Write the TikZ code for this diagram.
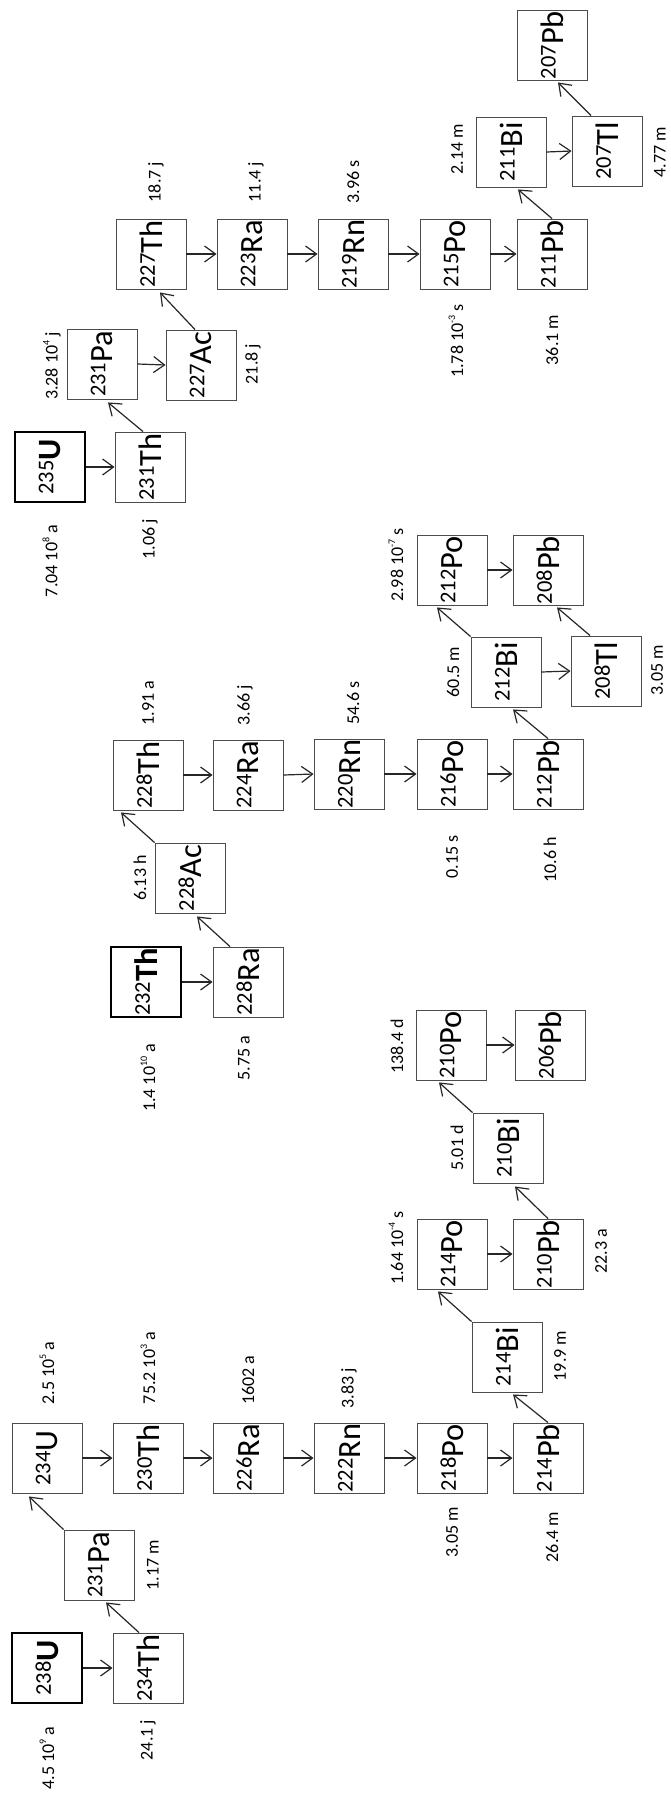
\documentclass[tikz,border=0pt]{standalone}
\usepackage{fontspec}
\setmainfont{Carlito}
\usepackage{graphicx}
\usetikzlibrary{arrows.meta,calc}
\newcommand\iso[2]{\rotatebox{90}{\raisebox{7.5pt}{\fontsize{22.5}{22.5}\selectfont #1}{\fontsize{32.5}{32.5}\selectfont #2}}}
\newcommand\isob[2]{\rotatebox{90}{\raisebox{7.5pt}{\fontsize{22.5}{22.5}\selectfont #1}{\fontsize{32.5}{32.5}\selectfont\bfseries #2}}}
\newcommand\pw[1]{\raisebox{0.45em}{\fontsize{10}{10}\selectfont #1}}
\begin{document}
\begin{tikzpicture}[x=1pt,y=-1pt,
  nuc/.style={draw=black!70, line width=0.9pt, minimum width=70pt, minimum height=70pt, inner sep=0pt},
  parent/.style={nuc, draw=black, line width=1.8pt},
  hl/.style={rotate=90, inner sep=0pt, font=\fontsize{18}{18}\selectfont},
  arr/.style={draw=black!85, line width=1.2pt, -{Straight Barb[length=11pt,width=16pt]}}]
\useasboundingbox (0,0) rectangle (671,1796);
% ---------- chain 238U ----------
\node[parent] (U238) at (47,1668) {\isob{238}{U}};
\node[nuc] (Th234) at (148,1668) {\iso{234}{Th}};
\node[nuc] (Pa234) at (99,1565) {\iso{231}{Pa}};
\node[nuc] (U234) at (47,1458) {\iso{234}{U}};
\node[nuc] (Th230) at (148,1458) {\iso{230}{Th}};
\node[nuc] (Ra226) at (248,1458) {\iso{226}{Ra}};
\node[nuc] (Rn222) at (349,1458) {\iso{222}{Rn}};
\node[nuc] (Po218) at (452,1458) {\iso{218}{Po}};
\node[nuc] (Pb214) at (548,1458) {\iso{214}{Pb}};
\node[nuc] (Bi214) at (507,1357) {\iso{214}{Bi}};
\node[nuc] (Po214) at (452,1254) {\iso{214}{Po}};
\node[nuc] (Pb210) at (548,1254) {\iso{210}{Pb}};
\node[nuc] (Bi210) at (508,1148) {\iso{210}{Bi}};
\node[nuc] (Po210) at (451,1045) {\iso{210}{Po}};
\node[nuc] (Pb206) at (550,1045) {\iso{206}{Pb}};
% ---------- chain 232Th ----------
\node[parent] (Th232) at (146,982) {\isob{232}{Th}};
\node[nuc] (Ra228) at (248,982) {\iso{228}{Ra}};
\node[nuc] (Ac228) at (190,878) {\iso{228}{Ac}};
\node[nuc] (Th228) at (148,775) {\iso{228}{Th}};
\node[nuc] (Ra224) at (248,775) {\iso{224}{Ra}};
\node[nuc] (Rn220) at (349,774) {\iso{220}{Rn}};
\node[nuc] (Po216) at (452,774) {\iso{216}{Po}};
\node[nuc] (Pb212) at (548,774) {\iso{212}{Pb}};
\node[nuc] (Bi212) at (506,672) {\iso{212}{Bi}};
\node[nuc] (Tl208) at (606,671) {\iso{208}{Tl}};
\node[nuc] (Po212) at (452,570) {\iso{212}{Po}};
\node[nuc] (Pb208) at (548,570) {\iso{208}{Pb}};
% ---------- chain 235U ----------
\node[parent] (U235) at (50,467) {\isob{235}{U}};
\node[nuc] (Th231) at (150,467) {\iso{231}{Th}};
\node[nuc] (Pa231) at (102,364) {\iso{231}{Pa}};
\node[nuc] (Ac227) at (201,365) {\iso{227}{Ac}};
\node[nuc] (Th227) at (151,254) {\iso{227}{Th}};
\node[nuc] (Ra223) at (252,254) {\iso{223}{Ra}};
\node[nuc] (Rn219) at (353,254) {\iso{219}{Rn}};
\node[nuc] (Po215) at (455,254) {\iso{215}{Po}};
\node[nuc] (Pb211) at (552,254) {\iso{211}{Pb}};
\node[nuc] (Bi211) at (511,152) {\iso{211}{Bi}};
\node[nuc] (Tl207) at (607,151) {\iso{207}{Tl}};
\node[nuc] (Pb207) at (552,45) {\iso{207}{Pb}};
% ---------- half-lives ----------
\node[hl] (h1) at (47,1758) {4.5 10\pw{9} a};
\node[hl] (h2) at (148,1740) {24.1 j};
\node[hl] (h3) at (153,1565) {1.17 m};
\node[hl] (h4) at (47,1373) {2.5 10\pw{5} a};
\node[hl] (h5) at (148,1368) {75.2 10\pw{3} a};
\node[hl] (h6) at (248,1380) {1602 a};
\node[hl] (h7) at (349,1388) {3.83 j};
\node[hl] (h8) at (452,1532) {3.05 m};
\node[hl] (h9) at (552,1537) {26.4 m};
\node[hl] (h10) at (560,1356) {19.9 m};
\node[hl] (h11) at (396,1248) {1.64 10\pw{-4} s};
\node[hl] (h12) at (601,1251) {22.3 a};
\node[hl] (h13) at (457,1148) {5.01 d};
\node[hl] (h14) at (397,1046) {138.4 d};
\node[hl] (h15) at (148,1078) {1.4 10\pw{10} a};
\node[hl] (h16) at (244,1058) {5.75 a};
\node[hl] (h17) at (140,878) {6.13 h};
\node[hl] (h18) at (148,703) {1.91 a};
\node[hl] (h19) at (245,705) {3.66 j};
\node[hl] (h20) at (353,703) {54.6 s};
\node[hl] (h21) at (452,857) {0.15 s};
\node[hl] (h22) at (550,860) {10.6 h};
\node[hl] (h23) at (453,672) {60.5 m};
\node[hl] (h24) at (657,670) {3.05 m};
\node[hl] (h25) at (396,565) {2.98 10\pw{-7} s};
\node[hl] (h26) at (50,561) {7.04 10\pw{8} a};
\node[hl] (h27) at (150,539) {1.06 j};
\node[hl] (h28) at (52,366) {3.28 10\pw{4} j};
\node[hl] (h29) at (253,364) {21.8 j};
\node[hl] (h30) at (156,182) {18.7 j};
\node[hl] (h31) at (256,182) {11.4 j};
\node[hl] (h32) at (353,182) {3.96 s};
\node[hl] (h33) at (457,149) {2.14 m};
\node[hl] (h34) at (660,152) {4.77 m};
\node[hl] (h35) at (456,341) {1.78 10\pw{-3} s};
\node[hl] (h36) at (552,340) {36.1 m};
% ---------- straight arrows ----------
\foreach \a/\b in {U238/Th234,U234/Th230,Th230/Ra226,Ra226/Rn222,Rn222/Po218,Po218/Pb214,Po214/Pb210,Po210/Pb206,
  Th232/Ra228,Th228/Ra224,Ra224/Rn220,Rn220/Po216,Po216/Pb212,Bi212/Tl208,Po212/Pb208,
  U235/Th231,Pa231/Ac227,Th227/Ra223,Ra223/Rn219,Rn219/Po215,Po215/Pb211,Bi211/Tl207}
  \draw[arr] (\a.east) -- (\b.west);
% ---------- diagonal arrows ----------
\draw[arr] ($(Th234.north)+(-9,0)$) -- ($(Pa234.south)+(7,2)$);
\draw[arr] (Pa234.north west) -- ($(U234.south)+(-18,3)$);
\draw[arr] (Pb214.north) -- ($(Bi214.south)+(6,2)$);
\draw[arr] (Bi214.north west) -- ($(Po214.south)+(-14,2)$);
\draw[arr] (Pb210.north) -- ($(Bi210.south)+(7,3)$);
\draw[arr] (Bi210.north west) -- ($(Po210.south)+(-12,2)$);
\draw[arr] ($(Ra228.north)+(-18,0)$) -- ($(Ac228.south)+(7,3)$);
\draw[arr] (Ac228.north west) -- ($(Th228.south)+(-27,2)$);
\draw[arr] (Pb212.north) -- ($(Bi212.south)+(7,2)$);
\draw[arr] (Bi212.north west) -- ($(Po212.south)+(-15,2)$);
\draw[arr] ($(Tl208.north)+(-16,0)$) -- ($(Pb208.south)+(9,2)$);
\draw[arr] ($(Th231.north)+(-7,0)$) -- ($(Pa231.south)+(6,3)$);
\draw[arr] ($(Ac227.north)+(-6,0)$) -- ($(Th227.south)+(9,3)$);
\draw[arr] (Pb211.north) -- ($(Bi211.south)+(7,2)$);
\draw[arr] ($(Tl207.north)+(-16,0)$) -- ($(Pb207.south)+(6,2)$);
\end{tikzpicture}
\end{document}
